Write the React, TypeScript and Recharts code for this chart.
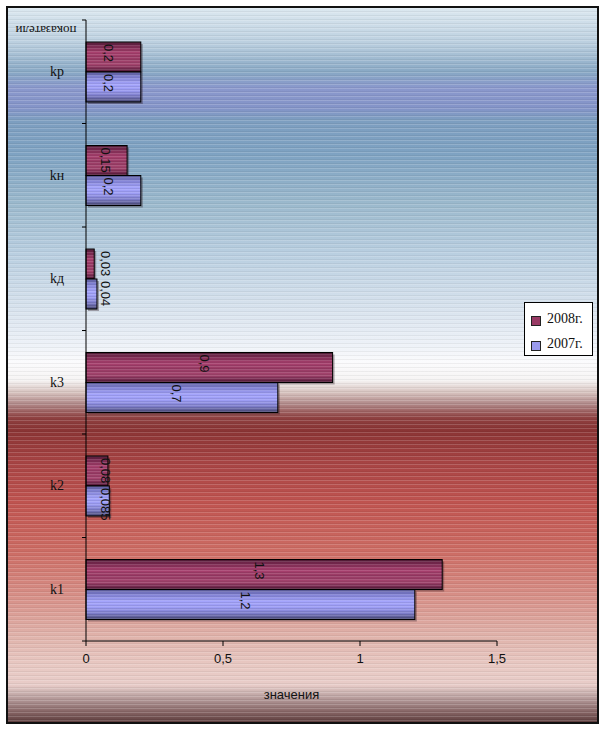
import { Bar, BarChart, LabelList, Legend, XAxis, YAxis } from "recharts";

const categories = ["kр", "kн", "kд", "k3", "k2", "k1"];
const values2008 = [0.2, 0.15, 0.03, 0.9, 0.08, 1.3];
const values2007 = [0.2, 0.2, 0.04, 0.7, 0.085, 1.2];
const xTicks = [0, 0.5, 1, 1.5];
const seriesOrder = ["y2008", "y2007"];

const data = categories.map((name, i) => ({ name, y2008: values2008[i], y2007: values2007[i] }));

const W = 611;
const H = 753;
const X_AXIS_H = 30;
const MARGIN = { top: 20, right: 114, bottom: 112 - X_AXIS_H, left: 0 };
const Y_AXIS_W = 86;
const BAND = (H - MARGIN.top - MARGIN.bottom - X_AXIS_H) / categories.length;

const SERIF = "'Liberation Serif', 'Times New Roman', serif";
const NARROW = "'Liberation Sans Narrow', 'Liberation Sans', sans-serif";

const comma = (v: number | string) => String(v).replace(".", ",");

const BG = `repeating-linear-gradient(to bottom, rgba(255,255,255,0.16) 0px, rgba(255,255,255,0.16) 1px, rgba(0,0,0,0) 1px, rgba(0,0,0,0) 3px, rgba(0,0,0,0.05) 3px, rgba(0,0,0,0.05) 4px),
linear-gradient(to bottom, #dce8f0 0px, #bcd0e0 34px, #88a8c4 64px, #8a98cc 80px, #8494c8 100px, #7d9ec0 112px, #7ea2c2 146px,
#9ab8cc 194px, #b8cee0 244px, #d4e0ec 294px, #eef2f8 338px, #fbfbfd 354px, #f6f4f4 372px, #d8c4c0 384px, #b08888 396px,
#8e4040 410px, #8a3434 422px, #a84444 456px, #c05450 496px, #cc6c64 544px, #d8948c 594px, #e0b4ac 630px, #e8c8c2 656px,
#e8ccc8 677px, #cdb4b2 684px, #a88c8c 694px, #866464 704px, #5e3e3e 714px)`;

function StripedBar(props: any) {
  const { x, y, width, height, fill } = props;
  if (!width || width <= 0) return null;
  return (
    <g>
      <rect x={x + 2} y={y + 2} width={width} height={height} fill="rgba(40,20,30,0.35)" />
      <rect x={x} y={y} width={width} height={height} fill={fill} />
      <rect x={x} y={y} width={width} height={height} fill="url(#barStripes)" />
      <rect x={x} y={y} width={width} height={height} fill="none" stroke="#000" strokeWidth={1} />
    </g>
  );
}

function RotLabel(props: any) {
  const { x, y, width, value } = props;
  const cx = Number(x) + Math.max(Number(width) / 2 - 5, 19);
  const ty = Number(y) + 2;
  return (
    <text
      x={cx}
      y={ty}
      transform={`rotate(90 ${cx} ${ty})`}
      textAnchor="start"
      dominantBaseline="central"
      fontSize={13}
      fontFamily={NARROW}
      fill="#111"
    >
      {comma(value)}
    </text>
  );
}

function CatTick(props: any) {
  const { y, payload, index } = props;
  const ax = Y_AXIS_W;
  return (
    <g>
      <text x={ax - 29} y={y} textAnchor="middle" dominantBaseline="central" fontSize={14} fontFamily={SERIF} fill="#111">
        {payload.value}
      </text>
      <line x1={ax - 4} x2={ax} y1={y - BAND / 2} y2={y - BAND / 2} stroke="#000" />
      {index === categories.length - 1 && (
        <line x1={ax - 4} x2={ax} y1={y + BAND / 2} y2={y + BAND / 2} stroke="#000" />
      )}
    </g>
  );
}

function AxisTitle(props: any) {
  const vb = props.viewBox || {};
  const tx = vb.x + vb.width - 40;
  const ty = vb.y + 10;
  return (
    <text
      x={tx}
      y={ty}
      transform={`rotate(180 ${tx} ${ty})`}
      textAnchor="middle"
      dominantBaseline="central"
      fontSize={13}
      fontFamily={SERIF}
      fill="#111"
    >
      показатели
    </text>
  );
}

function XTitle(props: any) {
  const vb = props.viewBox || {};
  return (
    <text
      x={vb.x + vb.width / 2}
      y={vb.y + 53}
      textAnchor="middle"
      dominantBaseline="central"
      fontSize={13}
      fontFamily={NARROW}
      fill="#111"
    >
      значения
    </text>
  );
}

function LegendBox({ payload }: any) {
  const items = [...(payload || [])].sort(
    (a: any, b: any) => seriesOrder.indexOf(a.dataKey) - seriesOrder.indexOf(b.dataKey)
  );
  return (
    <div
      style={{
        width: 69,
        height: 54,
        boxSizing: "border-box",
        border: "1px solid #000",
        background: "#fff",
        fontFamily: SERIF,
        fontSize: 14,
        color: "#111",
        padding: "3px 0 0 6px",
      }}
    >
      {items.map((p: any) => (
        <div key={p.value} style={{ display: "flex", alignItems: "center", height: 25 }}>
          <span
            style={{
              display: "inline-block",
              width: 8,
              height: 8,
              marginRight: 6,
              marginTop: 4,
              border: "1px solid #222",
              background: p.dataKey === "y2008" ? "#983a64" : "#9a9aee",
            }}
          />
          {p.value}
        </div>
      ))}
    </div>
  );
}

export default function App() {
  return (
    <div style={{ position: "absolute", left: 0, top: 0, width: W, height: H }}>
      <div
        style={{
          position: "absolute",
          left: 6,
          top: 6,
          width: 593,
          height: 718,
          boxSizing: "border-box",
          border: "2px solid #111",
          background: BG,
        }}
      />
      <div style={{ position: "absolute", left: 0, top: 0 }}>
        <BarChart
          width={W}
          height={H}
          data={data}
          layout="vertical"
          margin={MARGIN}
          barSize={30}
          barGap={0}
        >
          <defs>
            <linearGradient id="g2008" x1="0" y1="0" x2="0" y2="1">
              <stop offset="0%" stopColor="#4e1a34" />
              <stop offset="12%" stopColor="#76284e" />
              <stop offset="35%" stopColor="#a8406e" />
              <stop offset="55%" stopColor="#983a64" />
              <stop offset="75%" stopColor="#a4446e" />
              <stop offset="90%" stopColor="#74294e" />
              <stop offset="100%" stopColor="#461630" />
            </linearGradient>
            <linearGradient id="g2007" x1="0" y1="0" x2="0" y2="1">
              <stop offset="0%" stopColor="#5a5a98" />
              <stop offset="15%" stopColor="#7e7ed0" />
              <stop offset="40%" stopColor="#a4a4fc" />
              <stop offset="60%" stopColor="#9c9cf4" />
              <stop offset="80%" stopColor="#7c7cc8" />
              <stop offset="92%" stopColor="#5c5c94" />
              <stop offset="100%" stopColor="#44446c" />
            </linearGradient>
            <pattern id="barStripes" width="4" height="3" patternUnits="userSpaceOnUse">
              <rect x="0" y="0" width="4" height="1" fill="rgba(255,255,255,0.12)" />
              <rect x="0" y="2" width="4" height="1" fill="rgba(0,0,0,0.08)" />
            </pattern>
          </defs>
          <XAxis
            type="number"
            domain={[0, 1.5]}
            ticks={xTicks}
            tickFormatter={comma}
            height={X_AXIS_H}
            axisLine={{ stroke: "#000" }}
            tickLine={{ stroke: "#000" }}
            tickSize={5}
            tick={{ fill: "#111", fontSize: 13, fontFamily: NARROW }}
            tickMargin={8}
            label={<XTitle />}
          />
          <YAxis
            type="category"
            dataKey="name"
            width={Y_AXIS_W}
            axisLine={{ stroke: "#000" }}
            tickLine={false}
            tick={<CatTick />}
            label={<AxisTitle />}
          />
          <Legend
            layout="vertical"
            align="center"
            verticalAlign="middle"
            content={<LegendBox />}
            wrapperStyle={{ left: 524, top: 302, width: 69, height: 54 }}
          />
          <Bar dataKey="y2008" name="2008г." fill="url(#g2008)" shape={<StripedBar />} isAnimationActive={false}>
            <LabelList dataKey="y2008" content={<RotLabel />} />
          </Bar>
          <Bar dataKey="y2007" name="2007г." fill="url(#g2007)" shape={<StripedBar />} isAnimationActive={false}>
            <LabelList dataKey="y2007" content={<RotLabel />} />
          </Bar>
        </BarChart>
      </div>
    </div>
  );
}
